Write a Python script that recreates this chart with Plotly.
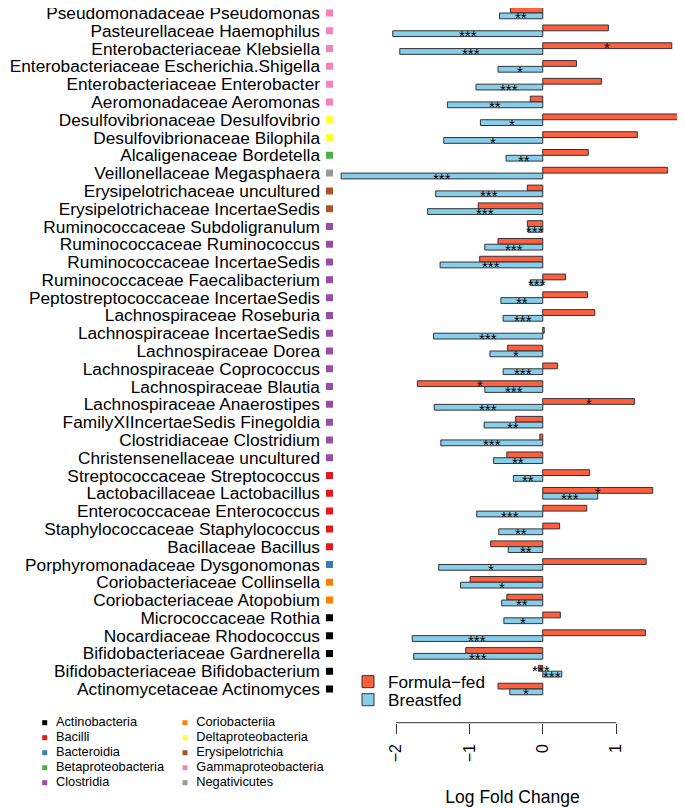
import plotly.graph_objects as go

labels = [
    "Pseudomonadaceae Pseudomonas", "Pasteurellaceae Haemophilus", "Enterobacteriaceae Klebsiella",
    "Enterobacteriaceae Escherichia.Shigella", "Enterobacteriaceae Enterobacter", "Aeromonadaceae Aeromonas",
    "Desulfovibrionaceae Desulfovibrio", "Desulfovibrionaceae Bilophila", "Alcaligenaceae Bordetella",
    "Veillonellaceae Megasphaera", "Erysipelotrichaceae uncultured", "Erysipelotrichaceae IncertaeSedis",
    "Ruminococcaceae Subdoligranulum", "Ruminococcaceae Ruminococcus", "Ruminococcaceae IncertaeSedis",
    "Ruminococcaceae Faecalibacterium", "Peptostreptococcaceae IncertaeSedis", "Lachnospiraceae Roseburia",
    "Lachnospiraceae IncertaeSedis", "Lachnospiraceae Dorea", "Lachnospiraceae Coprococcus",
    "Lachnospiraceae Blautia", "Lachnospiraceae Anaerostipes", "FamilyXIIncertaeSedis Finegoldia",
    "Clostridiaceae Clostridium", "Christensenellaceae uncultured", "Streptococcaceae Streptococcus",
    "Lactobacillaceae Lactobacillus", "Enterococcaceae Enterococcus", "Staphylococcaceae Staphylococcus",
    "Bacillaceae Bacillus", "Porphyromonadaceae Dysgonomonas", "Coriobacteriaceae Collinsella",
    "Coriobacteriaceae Atopobium", "Micrococcaceae Rothia", "Nocardiaceae Rhodococcus",
    "Bifidobacteriaceae Gardnerella", "Bifidobacteriaceae Bifidobacterium", "Actinomycetaceae Actinomyces",
]

formula_fed = [-0.44, 0.895, 1.76, 0.46, 0.80, -0.17, 1.93, 1.29, 0.62, 1.70,
               -0.21, -0.88, -0.21, -0.61, -0.86, 0.31, 0.61, 0.71, 0.02, -0.48,
               0.20, -1.71, 1.25, -0.37, -0.04, -0.49, 0.64, 1.50, 0.60, 0.23,
               -0.71, 1.41, -0.99, -0.49, 0.24, 1.40, -1.05, -0.06, -0.61]

breastfed = [-0.59, -2.045, -1.95, -0.61, -0.91, -1.30, -0.85, -1.35, -0.50, -2.75,
             -1.46, -1.57, -0.20, -0.79, -1.40, -0.17, -0.57, -0.54, -1.49, -0.72,
             -0.54, -0.79, -1.48, -0.80, -1.39, -0.67, -0.40, 0.75, -0.90, -0.60,
             -0.47, -1.42, -1.12, -0.56, -0.53, -1.78, -1.76, 0.26, -0.45]

formula_sig = ["", "", "*", "", "", "", "", "", "", "",
               "", "", "", "", "", "", "", "", "", "",
               "", "*", "*", "", "", "", "", "*", "", "",
               "", "", "", "", "", "", "", "***", ""]

breast_sig = ["**", "***", "***", "*", "***", "**", "*", "*", "**", "***",
              "***", "***", "***", "***", "***", "***", "**", "***", "***", "*",
              "***", "***", "***", "**", "***", "**", "**", "***", "***", "**",
              "**", "*", "*", "**", "*", "***", "***", "***", "*"]

row_class = (["Gammaproteobacteria"] * 6 + ["Deltaproteobacteria"] * 2 + ["Betaproteobacteria"]
             + ["Negativicutes"] + ["Erysipelotrichia"] * 2 + ["Clostridia"] * 14
             + ["Bacilli"] * 5 + ["Bacteroidia"] + ["Coriobacteriia"] * 2 + ["Actinobacteria"] * 5)

class_names = ["Actinobacteria", "Bacilli", "Bacteroidia", "Betaproteobacteria", "Clostridia",
               "Coriobacteriia", "Deltaproteobacteria", "Erysipelotrichia", "Gammaproteobacteria",
               "Negativicutes"]
class_colors = ["#000000", "#E41A1C", "#377EB8", "#4DAF4A", "#984EA3",
                "#FF7F00", "#FFFF33", "#A65628", "#F781BF", "#999999"]

tick_vals = [-2, -1, 0, 1]
tick_text = ["\u22122", "\u22121", "0", "1"]

W, H = 685, 808
FONT = "Liberation Sans, Arial, sans-serif"
RED = "#FF5F3F"
BLUE = "#87CEEB"
NBSP = "\u00a0"

fig = go.Figure()

fig.add_trace(go.Bar(
    y=labels, x=formula_fed, orientation="h", name="Formula\u2212fed",
    marker=dict(color=RED, line=dict(color="#333333", width=1)),
    legend="legend", hoverinfo="x+y", cliponaxis=False,
))
fig.add_trace(go.Bar(
    y=labels, x=breastfed, orientation="h", name="Breastfed",
    marker=dict(color=BLUE, line=dict(color="#333333", width=1)),
    legend="legend3", hoverinfo="x+y", cliponaxis=False,
))

# class squares beside the labels
for cname, ccol in zip(class_names, class_colors):
    ys = [lab for lab, c in zip(labels, row_class) if c == cname]
    fig.add_trace(go.Scatter(
        x=[0] * len(ys), y=ys, mode="markers", name=cname, showlegend=False,
        marker=dict(symbol="square", size=7, color=ccol, line=dict(width=0)),
        xaxis="x2", yaxis="y", hoverinfo="name+y",
    ))

# class key (two columns of five)
key_col = [i // 5 for i in range(len(class_names))]
key_row = [i % 5 for i in range(len(class_names))]
fig.add_trace(go.Scatter(
    x=key_col, y=key_row, mode="markers+text", text=[NBSP * 2 + n for n in class_names],
    textposition="middle right", textfont=dict(size=12.8, color="black", family=FONT),
    marker=dict(symbol="square", size=5, color=class_colors, line=dict(width=0)),
    xaxis="x3", yaxis="y3", showlegend=False, hoverinfo="text", cliponaxis=False,
))

# significance stars at the middle of each bar
annotations = []
for lab, v, s in zip(labels, formula_fed, formula_sig):
    if s:
        annotations.append(dict(x=v / 2, y=lab, xref="x", yref="y", text=s, showarrow=False,
                                yshift=0.9, font=dict(size=15, color="black", family=FONT)))
for lab, v, s in zip(labels, breastfed, breast_sig):
    if s:
        annotations.append(dict(x=v / 2, y=lab, xref="x", yref="y", text=s, showarrow=False,
                                yshift=-4.9, font=dict(size=15, color="black", family=FONT)))

# the page adds an 8px body margin; figure pixel = page pixel - 8
row0_px, rowN_px = 5, 681
row_sp = (rowN_px - row0_px) / (len(labels) - 1)
plot_bottom = 714.7
y_top_val = -row0_px / row_sp
y_bot_val = (len(labels) - 1) + (plot_bottom - rowN_px) / row_sp

fig.update_layout(
    width=W, height=H,
    margin=dict(l=0, r=0, t=0, b=0),
    paper_bgcolor="white", plot_bgcolor="rgba(0,0,0,0)",
    font=dict(family=FONT, size=16, color="black"),
    barmode="group", bargap=0.35, bargroupgap=0,
    annotations=annotations,
    xaxis=dict(
        domain=[332 / W, 677 / W], range=[-2.765, 1.94],
        tickvals=tick_vals, ticktext=tick_text, tickangle=-90,
        ticks="outside", ticklen=10, tickwidth=1, tickcolor="#333333",
        showline=False, showgrid=False, zeroline=False,
        tickfont=dict(size=16), ticklabelstandoff=4,
        title=dict(text="Log Fold Change", font=dict(size=17.5), standoff=29),
        anchor="y", automargin=False,
    ),
    xaxis2=dict(domain=[316.5 / W, 326.5 / W], range=[-1, 1], visible=False, anchor="y"),
    yaxis=dict(
        domain=[1 - plot_bottom / H, 1],
        range=[y_bot_val, y_top_val],
        anchor="free", position=312 / W,
        tickmode="array", tickvals=labels, ticktext=labels,
        showgrid=False, zeroline=False, showline=False, ticks="",
        tickfont=dict(size=17.3), ticklabelstandoff=0, automargin=False,
    ),
    xaxis3=dict(domain=[36.7 / W, 177 / W], range=[0, 1], visible=False, anchor="y3"),
    yaxis3=dict(domain=[1 - 774.7 / H, 1 - 714.7 / H], range=[4, 0], visible=False, anchor="x3"),
    legend=dict(
        x=340 / W, y=1 - 674 / H, xanchor="left", yanchor="middle",
        font=dict(size=17.2), bgcolor="rgba(0,0,0,0)", itemwidth=30,
    ),
    legend3=dict(
        x=340 / W, y=1 - 692 / H, xanchor="left", yanchor="middle",
        font=dict(size=17.2), bgcolor="rgba(0,0,0,0)", itemwidth=30,
    ),
    shapes=[dict(type="line", xref="x", yref="y domain",
                 x0=min(tick_vals), x1=max(tick_vals), y0=0, y1=0,
                 line=dict(color="#333333", width=1))],
)

fig.write_html("out.html")
